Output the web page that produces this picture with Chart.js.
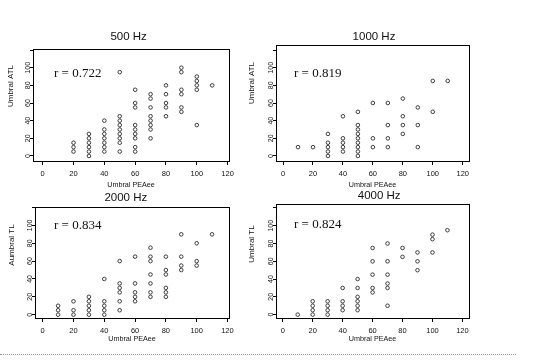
<!DOCTYPE html>
<html><head><meta charset="utf-8">
<script src="https://cdn.jsdelivr.net/npm/chart.js@4.4.1/dist/chart.umd.min.js"></script>
<style>
html,body{margin:0;padding:0;background:#fff;width:534px;height:360px;overflow:hidden;position:relative}
canvas{position:absolute}
#rule{position:absolute;left:0;top:354px;width:516px;height:0;border-top:1px dotted #9a9a9a;}
</style></head><body>
<canvas id="c0"></canvas><canvas id="c1"></canvas><canvas id="c2"></canvas><canvas id="c3"></canvas>
<div id="rule"></div>
<script>
// ---- data ----
const xTickValues = [0, 20, 40, 60, 80, 100, 120];
const yTickValues = [0, 20, 40, 60, 80, 100, 120];
const yTickLabels = ['0', '20', '40', '60', '80', '100'];
const panelTitles = ['500 Hz', '1000 Hz', '2000 Hz', '4000 Hz'];
const rLabels = ['r = 0.722', 'r = 0.819', 'r = 0.834', 'r = 0.824'];
const yTitles = ['Umbral ATL', 'Umbral ATL', 'Aumbral TL', 'Umbral TL'];
const xTitle = 'Umbral PEAee';

const hz500X = [20,20,20, 30,30,30,30,30,30, 40,40,40,40,40,40,40, 50,50,50,50,50,50,50,50,50,
  60,60,60,60,60,60,60,60,60, 70,70,70,70,70,70,70,70, 80,80,80,80,80, 90,90,90,90,90,90, 100,100,100,100,100, 110];
const hz500Y = [5,10,15, 0,5,10,15,20,25, 5,10,15,20,25,30,40, 5,15,20,25,30,35,40,45,95,
  5,10,20,25,30,35,55,60,75, 20,30,35,40,45,55,65,70, 45,55,60,70,80, 50,55,70,75,95,100, 35,75,80,85,90, 80];

const hz1000X = [10, 20, 30,30,30,30,30, 40,40,40,40,40, 50,50,50,50,50,50,50,50,50,
  60,60,60, 70,70,70,70, 80,80,80,80, 90,90,90, 100,100, 110];
const hz1000Y = [10, 10, 0,5,10,15,25, 5,10,15,20,45, 0,5,10,15,20,25,30,35,50,
  10,20,60, 10,20,35,60, 25,35,45,65, 10,35,55, 50,85, 85];

const hz2000X = [10,10,10, 20,20,20, 30,30,30,30,30, 40,40,40,40,40, 50,50,50,50,50,50,
  60,60,60,60,60, 70,70,70,70,70,70,70, 80,80,80,80,80,80, 90,90,90,90, 100,100,100, 110];
const hz2000Y = [0,5,10, 0,5,15, 0,5,10,15,20, 0,5,10,15,40, 5,15,25,30,35,60,
  15,20,25,35,65, 20,25,35,45,60,65,75, 20,25,30,45,50,65, 50,55,65,90, 55,60,80, 90];

const hz4000X = [10, 20,20,20,20, 30,30,30,30, 40,40,40,40, 50,50,50,50,50,50,
  60,60,60,60,60, 70,70,70,70,70,70, 80,80, 90,90,90, 100,100,100, 110];
const hz4000Y = [0, 0,5,10,15, 0,5,10,15, 5,10,15,30, 5,10,15,20,30,40,
  25,30,45,60,75, 10,30,35,45,60,80, 65,75, 50,60,70, 70,85,90, 95];

const seriesX = [hz500X, hz1000X, hz2000X, hz4000X];
const seriesY = [hz500Y, hz1000Y, hz2000Y, hz4000Y];

// ---- layout (page coordinates) ----
const layouts = [
  {canvas:[0,25,240,167],   area:[33,49,229,161],  xr:[-6.3,120.9], yr:[-5.7,121.2], title:[128.6,37.3], r:[54,74],   yT:[11,86],   xTitleY:184.7},
  {canvas:[240,25,294,167], area:[276,45,469,161], xr:[-4.7,124.2], yr:[-5.7,125.7], title:[374,37],     r:[294,74],  yT:[252,83],  xTitleY:184.7},
  {canvas:[0,184,240,176],  area:[35,207,229,318], xr:[-5,121],     yr:[-3.7,120.6], title:[125.8,198.3],r:[54,225.7],yT:[11.7,245],xTitleY:339.5},
  {canvas:[240,184,294,176],area:[276,204,469,318],xr:[-4.5,124.4], yr:[-3.8,124.5], title:[379.2,195.7],r:[294,225], yT:[252,244], xTitleY:339.5}
];

const SANS = '"Liberation Sans", Arial, sans-serif';
const SERIF = '"Liberation Serif", "Times New Roman", serif';

const panelText = {
  id: 'panelText',
  afterDraw(chart, args, o) {
    const ctx = chart.ctx, a = chart.chartArea, ys = chart.scales.y;
    ctx.save();
    ctx.strokeStyle = '#000'; ctx.lineWidth = 1;
    ctx.strokeRect(Math.round(a.left) + 0.5, Math.round(a.top) + 0.5,
      Math.round(a.right - a.left), Math.round(a.bottom - a.top));
    ctx.fillStyle = '#111';
    // rotated y tick labels
    ctx.font = '7px ' + SANS;
    ctx.textAlign = 'center'; ctx.textBaseline = 'middle';
    yTickLabels.forEach((t, i) => {
      const py = ys.getPixelForValue(yTickValues[i]);
      ctx.save(); ctx.translate(a.left - 5, py); ctx.rotate(-Math.PI / 2);
      ctx.fillText(t, 0, 0); ctx.restore();
    });
    // y title
    ctx.font = '8px ' + SANS;
    ctx.save(); ctx.translate(o.yT[0], o.yT[1]); ctx.rotate(-Math.PI / 2);
    ctx.fillText(o.yTitle, 0, 0); ctx.restore();
    // panel title
    ctx.font = '11.5px ' + SANS;
    ctx.fillText(o.title, o.titlePos[0], o.titlePos[1]);
    // r annotation
    ctx.font = '13px ' + SERIF;
    ctx.textAlign = 'left';
    ctx.fillText(o.r, o.rPos[0], o.rPos[1]);
    ctx.restore();
  }
};

layouts.forEach((L, k) => {
  const [cx, cy, cw, ch] = L.canvas;
  const [al, at, ar, ab] = L.area;
  const cv = document.getElementById('c' + k);
  cv.width = cw; cv.height = ch;
  cv.style.left = cx + 'px'; cv.style.top = cy + 'px';
  cv.style.width = cw + 'px'; cv.style.height = ch + 'px';
  const xFont = 7.2, xLH = xFont * 1.2;
  const titlePadBottom = (cy + ch) - L.xTitleY - xLH / 2;
  const pts = seriesX[k].map((x, i) => ({x: x, y: seriesY[k][i]}));
  new Chart(cv, {
    type: 'scatter',
    data: {datasets: [{
      data: pts, showLine: false,
      pointStyle: 'circle', pointRadius: 1.8, pointBorderWidth: 0.9,
      pointBorderColor: '#2a2a2a', pointBackgroundColor: 'rgba(0,0,0,0)'
    }]},
    options: {
      responsive: false, animation: false, devicePixelRatio: 1,
      events: [],
      layout: {padding: {left: 0, top: at - cy, right: (cx + cw) - ar, bottom: 0}},
      plugins: {
        legend: {display: false}, tooltip: {enabled: false}, title: {display: false},
        panelText: {
          title: panelTitles[k], titlePos: [L.title[0] - cx, L.title[1] - cy],
          r: rLabels[k], rPos: [L.r[0] - cx, L.r[1] - cy],
          yTitle: yTitles[k], yT: [L.yT[0] - cx, L.yT[1] - cy]
        }
      },
      scales: {
        x: {
          type: 'linear', min: L.xr[0], max: L.xr[1],
          afterBuildTicks: s => { s.ticks = xTickValues.map(v => ({value: v})); },
          afterFit: s => { s.height = (cy + ch) - ab; },
          ticks: {font: {family: SANS, size: 7.5}, color: '#111', padding: 4.5, maxRotation: 0, autoSkip: false},
          grid: {display: true, drawOnChartArea: false, drawTicks: true, tickLength: 4, color: '#000', lineWidth: 1},
          border: {display: false},
          title: {display: true, text: xTitle, color: '#111', font: {family: SANS, size: xFont, lineHeight: 1.2},
                  padding: {top: 0, bottom: titlePadBottom}}
        },
        y: {
          type: 'linear', min: L.yr[0], max: L.yr[1],
          afterBuildTicks: s => { s.ticks = yTickValues.map(v => ({value: v})); },
          afterFit: s => { s.width = al - cx; },
          ticks: {display: false},
          grid: {display: true, drawOnChartArea: false, drawTicks: true, tickLength: 3, color: '#000', lineWidth: 1},
          border: {display: false}
        }
      }
    },
    plugins: [panelText]
  });
});
</script>
</body></html>
